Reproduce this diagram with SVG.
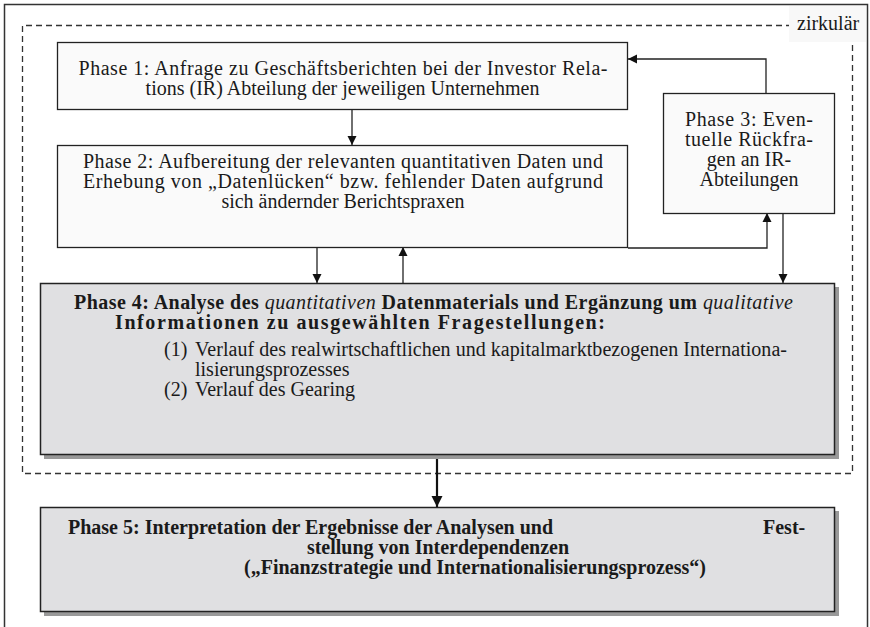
<svg xmlns="http://www.w3.org/2000/svg" width="870" height="627" viewBox="0 0 870 627">
<defs>
<style>
text{font-family:"Liberation Serif","Times New Roman",serif;font-size:20px;fill:#1a1a1a}
.b{font-weight:bold}
.m{text-anchor:middle}
.box{fill:#fafafa;stroke:#222;stroke-width:1.3}
.gbox{fill:#e0e0e2;stroke:#222;stroke-width:1.5}
.sh{fill:#999}
.ln{fill:none;stroke:#222;stroke-width:1.3}
</style>
<marker id="ah" markerWidth="10" markerHeight="10" refX="9" refY="5" orient="auto" markerUnits="userSpaceOnUse"><path d="M0,0.5 L9,5 L0,9.5 Z" fill="#111"/></marker>
<marker id="ahb" markerWidth="12" markerHeight="12" refX="11" refY="6" orient="auto" markerUnits="userSpaceOnUse"><path d="M0,0.5 L11,6 L0,11.5 Z" fill="#111"/></marker>
</defs>
<rect x="0" y="0" width="870" height="627" fill="#fff"/>
<rect x="4.5" y="4.5" width="863" height="640" fill="none" stroke="#333" stroke-width="1.5"/>
<path d="M792,25.5 H22.5 V473.5 H852.5 V42" fill="none" stroke="#333" stroke-width="1.3" stroke-dasharray="6,4"/>
<rect x="789" y="6" width="77" height="36" fill="#f8f8f8"/>
<text x="797" y="30">zirkulär</text>

<g id="connectors">
<path class="ln" d="M352,110 V145" marker-end="url(#ah)"/>
<path class="ln" d="M766,93 V59 H628" marker-end="url(#ah)"/>
<path class="ln" d="M628,248 H767 V213" marker-end="url(#ah)"/>
<path class="ln" d="M783,213 V283" marker-end="url(#ah)"/>
<path class="ln" d="M317,247 V283" marker-end="url(#ah)"/>
<path class="ln" d="M403,283 V247" marker-end="url(#ah)"/>
<path fill="none" stroke="#111" stroke-width="2.2" d="M437,457 V507" marker-end="url(#ahb)"/>
</g>

<g id="phase1">
<rect class="box" x="57.5" y="42.5" width="570" height="67"/>
<text class="m" x="343" y="75" textLength="529" lengthAdjust="spacing">Phase 1: Anfrage zu Geschäftsberichten bei der Investor Rela-</text>
<text class="m" x="342.5" y="95">tions (IR) Abteilung der jeweiligen Unternehmen</text>
</g>

<g id="phase2">
<rect class="box" x="57.5" y="145.5" width="570" height="102"/>
<text class="m" x="343" y="168" textLength="520" lengthAdjust="spacing">Phase 2: Aufbereitung der relevanten quantitativen Daten und</text>
<text class="m" x="343" y="188" textLength="520" lengthAdjust="spacing">Erhebung von „Datenlücken“ bzw. fehlender Daten aufgrund</text>
<text class="m" x="343" y="208">sich ändernder Berichtspraxen</text>
</g>

<g id="phase3">
<rect class="box" x="663.5" y="93.5" width="171" height="120"/>
<text class="m" x="749" y="126" textLength="128" lengthAdjust="spacing">Phase 3: Even-</text>
<text class="m" x="749" y="146" textLength="128" lengthAdjust="spacing">tuelle Rückfra-</text>
<text class="m" x="749" y="166">gen an IR-</text>
<text class="m" x="749" y="186">Abteilungen</text>
</g>

<g id="phase4">
<rect class="sh" x="44" y="287" width="795" height="172"/>
<rect class="gbox" x="40.5" y="283.5" width="794" height="171"/>
<text class="b" x="74" y="309" textLength="719" lengthAdjust="spacing">Phase 4: Analyse des <tspan font-style="italic" font-weight="normal">quantitativen</tspan> Datenmaterials und Ergänzung um <tspan font-style="italic" font-weight="normal">qualitative</tspan></text>
<text class="b" x="115" y="329" textLength="490" lengthAdjust="spacing">Informationen zu ausgewählten Fragestellungen:</text>
<text x="164" y="356">(1)</text>
<text x="195" y="356" textLength="592" lengthAdjust="spacing">Verlauf des realwirtschaftlichen und kapitalmarktbezogenen Internationa-</text>
<text x="195" y="376">lisierungsprozesses</text>
<text x="164" y="396">(2)</text>
<text x="195" y="396">Verlauf des Gearing</text>
</g>

<g id="phase5">
<rect class="sh" x="44" y="511" width="795" height="105"/>
<rect class="gbox" x="40.5" y="507.5" width="794" height="104"/>
<text class="b" x="68" y="534">Phase 5: Interpretation der Ergebnisse der Analysen und</text>
<text class="b" x="763" y="534">Fest-</text>
<text class="b m" x="438" y="554">stellung von Interdependenzen</text>
<text class="b m" x="475" y="574">(„Finanzstrategie und Internationalisierungsprozess“)</text>
</g>
</svg>
